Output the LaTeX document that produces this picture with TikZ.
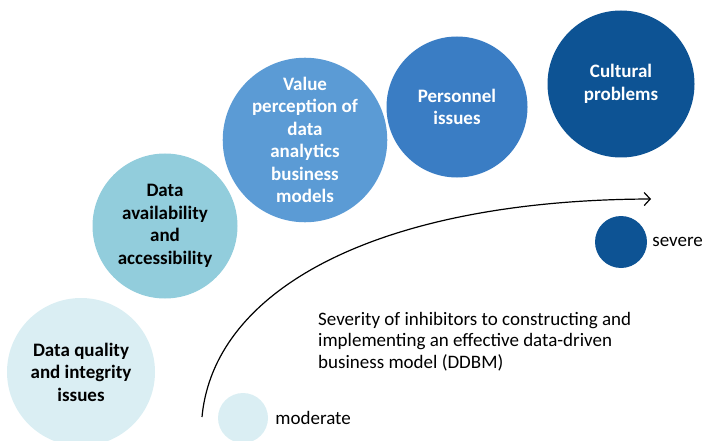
\documentclass[tikz,border=0pt]{standalone}
\usepackage{fontspec}
\setmainfont{Carlito}
\usetikzlibrary{arrows.meta,positioning}

\definecolor{paleblue}{HTML}{DAEEF3}
\definecolor{aquablue}{HTML}{92CDDC}
\definecolor{midblue}{HTML}{5B9BD5}
\definecolor{strongblue}{HTML}{3A7DC4}
\definecolor{deepblue}{HTML}{0D5394}

\tikzset{
  bubble/.style={circle, inner sep=0pt, align=center,
    font=\fontsize{19}{22.5}\selectfont\bfseries},
  legendtxt/.style={anchor=west, inner sep=0pt,
    font=\fontsize{19}{21.5}\selectfont},
}

\begin{document}
\begin{tikzpicture}[x=1pt,y=-1pt]
  \useasboundingbox (0,0) rectangle (704,441);

  % inhibitor bubbles, mild to severe
  \node[bubble, fill=paleblue,  minimum size=148pt] (quality)   at (81,372)  {Data quality\\and integrity\\issues};
  \node[bubble, fill=aquablue,  minimum size=145pt] (access)    at (165,226) {Data\\availability\\and\\accessibility};
  \node[bubble, fill=midblue,   minimum size=146pt, text=white] (value) at (305,140) {Value\\perception of\\data\\analytics\\business\\models};
  \node[bubble, fill=strongblue,minimum size=141pt, text=white] (staff) at (457,107) {Personnel\\issues};
  \node[bubble, fill=deepblue,  minimum size=147pt, text=white] (culture) at (621,84) {Cultural\\problems};

  % legend dots
  \node[circle, fill=deepblue, minimum size=52pt, inner sep=0pt] (severe) at (621,242) {};
  \node[legendtxt, right=5pt of severe] (severelbl) {severe};
  \node[circle, fill=paleblue, minimum size=50pt, inner sep=0pt] (moderate) at (243,418) {};
  \node[legendtxt, right=7pt of moderate] (moderatelbl) {moderate};

  % severity axis
  \coordinate (low) at (202,417);
  \coordinate (high) at (651,199);
  \draw[line width=1.2pt, -{Straight Barb[length=6pt,width=13pt]}]
    (low) .. controls (214,288) and (380,200) .. (high);

  \node[legendtxt, anchor=north west, align=left] (caption) at (318,312)
    {Severity of inhibitors to constructing and\\implementing an effective data-driven\\business model (DDBM)};
\end{tikzpicture}
\end{document}
